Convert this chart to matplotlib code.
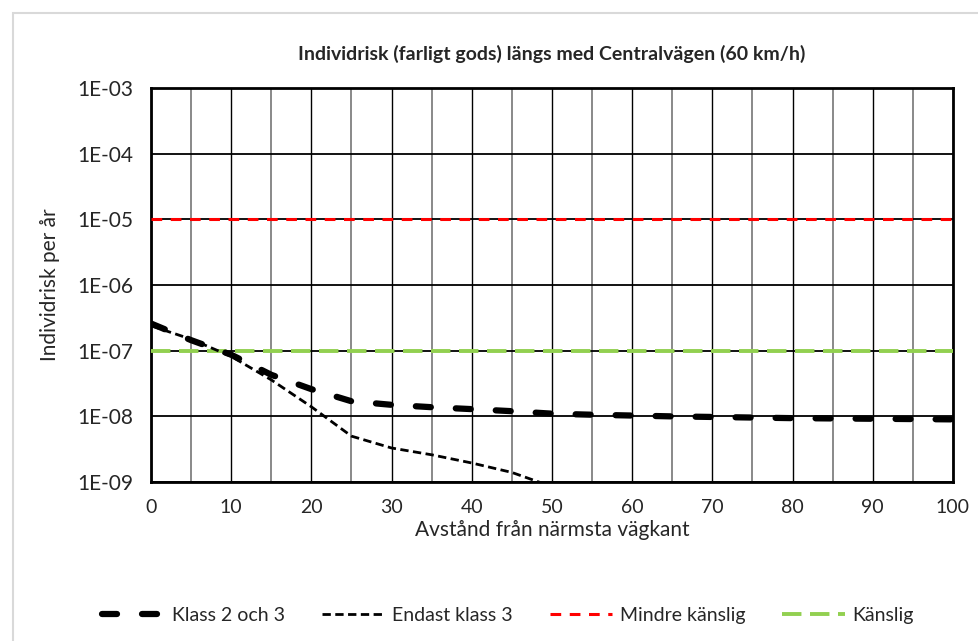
import numpy as np
import matplotlib.pyplot as plt
from matplotlib.patches import Rectangle
from matplotlib.ticker import FixedLocator, FuncFormatter

plt.rcParams['font.family'] = ['Lato', 'DejaVu Sans']

# Avstånd (m) och individrisk per år
avstand = [0, 5, 10, 15, 20, 25, 30, 35, 40, 45, 50, 55, 60, 65, 70, 75, 80, 85, 90, 95, 100]
klass_2_och_3 = [2.6e-7, 1.45e-7, 8.7e-8, 4.3e-8, 2.6e-8, 1.7e-8, 1.5e-8, 1.38e-8, 1.29e-8, 1.2e-8,
                 1.1e-8, 1.06e-8, 1.03e-8, 1.0e-8, 0.98e-8, 0.96e-8, 0.94e-8, 0.93e-8, 0.92e-8, 0.91e-8, 0.9e-8]
endast_klass_3 = [2.4e-7, 1.5e-7, 8.2e-8, 3.6e-8, 1.4e-8, 5.0e-9, 3.3e-9, 2.6e-9, 1.95e-9, 1.4e-9, 8.5e-10]
mindre_kanslig = 1e-5
kanslig = 1e-7

fig = plt.figure(figsize=(9.79, 6.41), dpi=100)
ax = fig.add_axes([0.1542, 0.248, 0.8192, 0.6145])

# ram runt diagrammet
fig.patches.append(Rectangle((13 / 979, -0.05), 1.2, 1 - 13 / 641 + 0.05, transform=fig.transFigure,
                             fill=False, edgecolor='#d9d9d9', linewidth=1.5))

ax.plot(avstand, klass_2_och_3, color='black', linewidth=4.5, dashes=(2.4, 4.0),
        solid_capstyle='round', dash_capstyle='round', label='Klass 2 och 3', zorder=5)
ax.plot(avstand[:len(endast_klass_3)], endast_klass_3, color='black', linewidth=2,
        dashes=(3, 1.6), label='Endast klass 3', zorder=4)
ax.plot([0, 100], [mindre_kanslig] * 2, color='#ff0000', linewidth=2.2, dashes=(3.5, 2.8),
        label='Mindre känslig', zorder=3)
ax.plot([0, 100], [kanslig] * 2, color='#92d050', linewidth=2.8, dashes=(5, 2.2),
        label='Känslig', zorder=3)

ax.set_yscale('log')
ax.set_xlim(0, 100)
ax.set_ylim(1e-9, 1e-3)
ax.xaxis.set_major_locator(FixedLocator(range(0, 101, 10)))
ax.xaxis.set_minor_locator(FixedLocator(range(5, 100, 10)))
ax.yaxis.set_major_locator(FixedLocator([10.0 ** k for k in range(-9, -2)]))
ax.yaxis.set_minor_locator(FixedLocator([]))
ax.yaxis.set_major_formatter(FuncFormatter(lambda v, p: '1E-%02d' % round(-np.log10(v))))

ax.grid(True, axis='x', which='major', color='black', linewidth=1.0)
ax.grid(True, axis='x', which='minor', color='#808080', linewidth=1.3)
ax.grid(True, axis='y', which='major', color='black', linewidth=1.3)
ax.set_axisbelow(True)
for s in ax.spines.values():
    s.set_linewidth(2)
    s.set_color('black')
ax.tick_params(which='both', length=0, colors='#262626')
ax.tick_params(axis='y', pad=13, labelsize=15)
ax.tick_params(axis='x', pad=12, labelsize=14)

ax.set_title('Individrisk (farligt gods) längs med Centralvägen (60 km/h)',
             fontsize=14, fontweight='bold', color='#262626', pad=20)
ax.set_xlabel('Avstånd från närmsta vägkant', fontsize=15, color='#262626', labelpad=3)
ax.set_ylabel('Individrisk per år', fontsize=15, color='#262626', labelpad=12)

fig.legend(loc='center', bbox_to_anchor=(0.519, 0.04), ncol=4, frameon=False, fontsize=14,
           handlelength=3.2, handletextpad=0.4, columnspacing=1.9, labelcolor='#262626')

fig.savefig('out.png', dpi=100)
